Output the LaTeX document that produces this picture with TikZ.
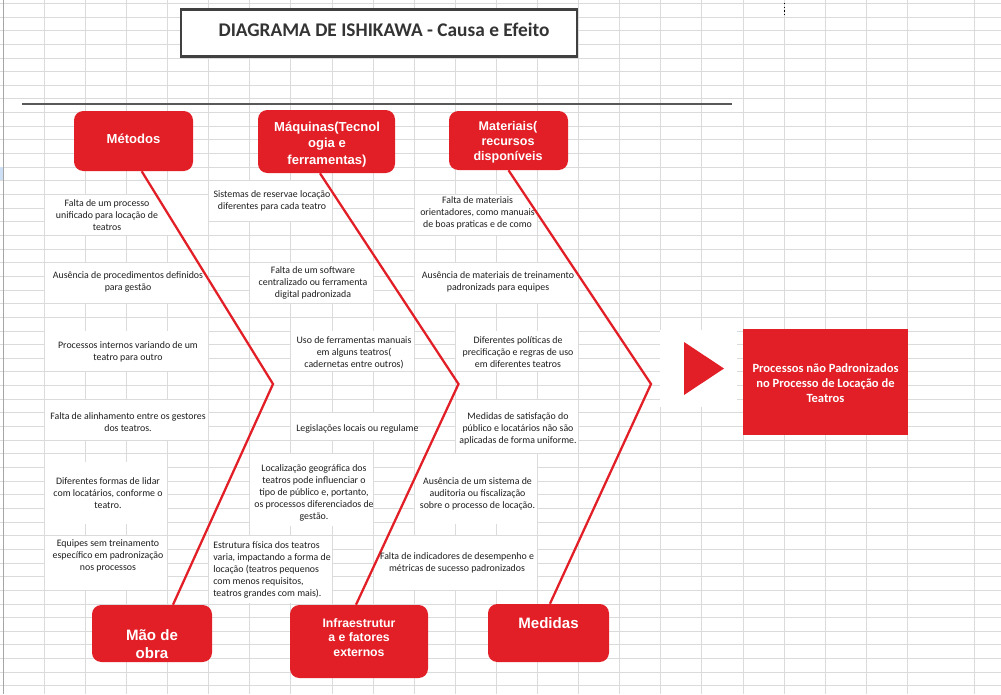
\documentclass[tikz,border=0pt]{standalone}
\usepackage{fontspec}
\setmainfont{Carlito}
\newfontfamily\arialf{Liberation Sans}
\definecolor{fishred}{RGB}{226,30,38}
\definecolor{gridgray}{RGB}{219,219,219}
\definecolor{darkgray}{RGB}{64,64,64}
\definecolor{selblue}{RGB}{205,224,245}
\begin{document}
\begin{tikzpicture}[x=0.75pt,y=-0.75pt,
  gridline/.style={draw=gridgray, line width=0.6pt},
  cellbg/.style={fill=white, draw=none},
  celltext/.style={font=\fontsize{7.4}{9}\selectfont, align=center, inner sep=0pt, text=black!88},
  catbox/.style={fill=fishred, draw=none, rounded corners=7pt, inner sep=0pt},
  cattext/.style={text=white, align=center, inner sep=0pt},
  catA/.style={cattext, font=\arialf\bfseries\fontsize{9.8}{12.3}\selectfont},
  catB/.style={cattext, font=\arialf\bfseries\fontsize{9.4}{11.2}\selectfont},
  catC/.style={cattext, font=\arialf\bfseries\fontsize{9.2}{10.9}\selectfont},
  catD/.style={cattext, font=\arialf\bfseries\fontsize{11.3}{13.5}\selectfont},
  fishline/.style={draw=fishred, line width=1.7pt},
]
% canvas
\path[use as bounding box, fill=white] (0,0) rectangle (1001,694);
% spreadsheet grid
\foreach \i in {0,...,21} \draw[gridline] ({44.3+41.095*\i},0) -- ({44.3+41.095*\i},694);
\draw[gridline] (974.3,0) -- (974.3,694);
\foreach \j in {0,...,50} \draw[gridline] (0,{3.3+13.65*\j}) -- (1001,{3.3+13.65*\j});
\draw[draw=black!35, line width=0.6pt] (3.3,0) -- (3.3,694);
\fill[selblue] (0,167) rectangle (3,180);
\draw[dotted, black, line width=0.8pt] (784.3,3) -- (784.3,16);

% white merged cells
\fill[cellbg] (44.8,194.9) rectangle (208.2,234.9);
\fill[cellbg] (44.8,263.2) rectangle (208.2,303.1);
\fill[cellbg] (44.8,331.4) rectangle (208.2,371.4);
\fill[cellbg] (44.8,399.7) rectangle (208.2,439.6);
\fill[cellbg] (44.8,462.0) rectangle (167.1,524.0);
\fill[cellbg] (44.8,536.2) rectangle (167.1,589.8);
\fill[cellbg] (209.2,181.2) rectangle (331.5,221.2);
\fill[cellbg] (250.3,263.2) rectangle (372.6,303.1);
\fill[cellbg] (291.4,331.4) rectangle (413.7,371.4);
\fill[cellbg] (291.4,413.3) rectangle (413.7,439.6);
\fill[cellbg] (250.3,454.2) rectangle (372.6,526.0);
\fill[cellbg] (209.2,536.2) rectangle (331.5,603.4);
\fill[cellbg] (414.7,194.9) rectangle (537.0,234.9);
\fill[cellbg] (414.7,263.2) rectangle (578.1,303.1);
\fill[cellbg] (455.8,331.4) rectangle (578.1,371.4);
\fill[cellbg] (455.8,399.7) rectangle (578.1,453.2);
\fill[cellbg] (414.7,454.2) rectangle (537.0,524.0);
\fill[cellbg] (373.6,536.2) rectangle (537.0,589.8);
\fill[cellbg] (660,330) rectangle (737,407);

% title
\node[draw=darkgray, line width=1.6pt, fill=white, minimum width=297pt, minimum height=35.2pt, inner sep=0pt] (titlebox) at (379,33) {};
\node[inner sep=0pt, text=black!80, font=\bfseries\fontsize{14.5}{17}\selectfont] (titletext) at (384,30) {DIAGRAMA DE ISHIKAWA - Causa e Efeito};
\coordinate (ruleL) at (22,104);
\coordinate (ruleR) at (732,104);
\draw[draw=black!65, line width=1.1pt] (ruleL) -- (ruleR);

% category boxes
\node[catbox, minimum width=89.25pt, minimum height=45pt] (metodos) at (133.5,141) {};
\node[catbox, minimum width=102.75pt, minimum height=47.25pt] (maquinas) at (326.5,141.5) {};
\node[catbox, minimum width=89.25pt, minimum height=44.25pt] (materiais) at (508.5,140.5) {};
\node[catbox, minimum width=90pt, minimum height=42.75pt] (maodeobra) at (152,633.5) {};
\node[catbox, minimum width=103.5pt, minimum height=54.75pt] (infra) at (359,641.5) {};
\node[catbox, minimum width=90.75pt, minimum height=43.5pt] (medidas) at (548.5,633) {};
\node[fill=fishred, draw=none, minimum width=123.75pt, minimum height=79.5pt, inner sep=0pt] (efeito) at (825.5,382) {};

% fish bones
\coordinate (v1) at (273,384);
\coordinate (v2) at (458.5,384);
\coordinate (v3) at (651,384);
\draw[fishline] ([xshift=6.15pt]metodos.south) -- (v1) -- ([xshift=15.75pt]maodeobra.north);
\draw[fishline] ([xshift=-4.9pt]maquinas.south) -- (v2) -- ([xshift=-2.25pt]infra.north);
\draw[fishline] (materiais.south) -- (v3) -- ([xshift=1.1pt]medidas.north);

% arrow head
\fill[fishred] (684,342) -- (724,368.5) -- (684,395) -- cycle;

% category labels
\node[catA] (metodostxt) at (133.5,138.5) {Métodos};
\node[catA] (maquinastxt) at (327,144.5) {Máquinas(Tecnol\\ogia e\\ferramentas)};
\node[catB] (materiaistxt) at (508,142.5) {Materiais(\\recursos\\disponíveis};
\node[catD] (maotxt) at (152,644) {Mão de\\obra};
\node[catC] (infratxt) at (359,637.5) {Infraestrutur\\a e fatores\\externos};
\node[catD] (medidastxt) at (548.5,623) {Medidas};
\node[cattext, font=\bfseries\fontsize{9.4}{11}\selectfont] (efeitotxt) at (825.5,383) {Processos não Padronizados\\no Processo de Locação de\\Teatros};

% causes
\node[celltext] (t1) at (107,215) {Falta de um processo\\unificado para locação de\\teatros};
\node[celltext] (t2) at (128,282) {Ausência de procedimentos definidos\\para gestão};
\node[celltext] (t3) at (128,352) {Processos internos variando de um\\teatro para outro};
\node[celltext] (t4) at (128,422.5) {Falta de alinhamento entre os gestores\\dos teatros.};
\node[celltext] (t5) at (108,493.5) {Diferentes formas de lidar\\com locatários, conforme o\\teatro.};
\node[celltext] (t6) at (108,556) {Equipes sem treinamento\\específico em padronização\\nos processos};
\node[celltext] (t7) at (272,201) {Sistemas de reservae locação\\diferentes para cada teatro};
\node[celltext] (t8) at (313,282.5) {Falta de um software\\centralizado ou ferramenta\\digital padronizada};
\node[celltext] (t9) at (354,352.5) {Uso de ferramentas manuais\\em alguns teatros(\\cadernetas entre outros)};
\node[celltext, anchor=west] (t10) at (296,428.5) {Legislações locais ou regulame};
\node[celltext] (t11) at (314,493) {Localização geográfica dos\\teatros pode influenciar o\\tipo de público e, portanto,\\os processos diferenciados de\\gestão.};
\node[celltext, align=left, anchor=west] (t12) at (213,569.5) {Estrutura física dos teatros\\varia, impactando a forma de\\locação (teatros pequenos\\com menos requisitos,\\teatros grandes com mais).};
\node[celltext] (t13) at (477.5,213) {Falta de materiais\\orientadores, como manuais\\de boas praticas e de como};
\node[celltext] (t14) at (498,282) {Ausência de materiais de treinamento\\padronizads para equipes};
\node[celltext] (t15) at (518,352.5) {Diferentes políticas de\\precificação e regras de uso\\em diferentes teatros};
\node[celltext] (t16) at (518,428.5) {Medidas de satisfação do\\público e locatários não são\\aplicadas de forma uniforme.};
\node[celltext] (t17) at (477.5,493.5) {Ausência de um sistema de\\auditoria ou fiscalização\\sobre o processo de locação.};
\node[celltext] (t18) at (457,562.5) {Falta de indicadores de desempenho e\\métricas de sucesso padronizados};
\end{tikzpicture}
\end{document}
